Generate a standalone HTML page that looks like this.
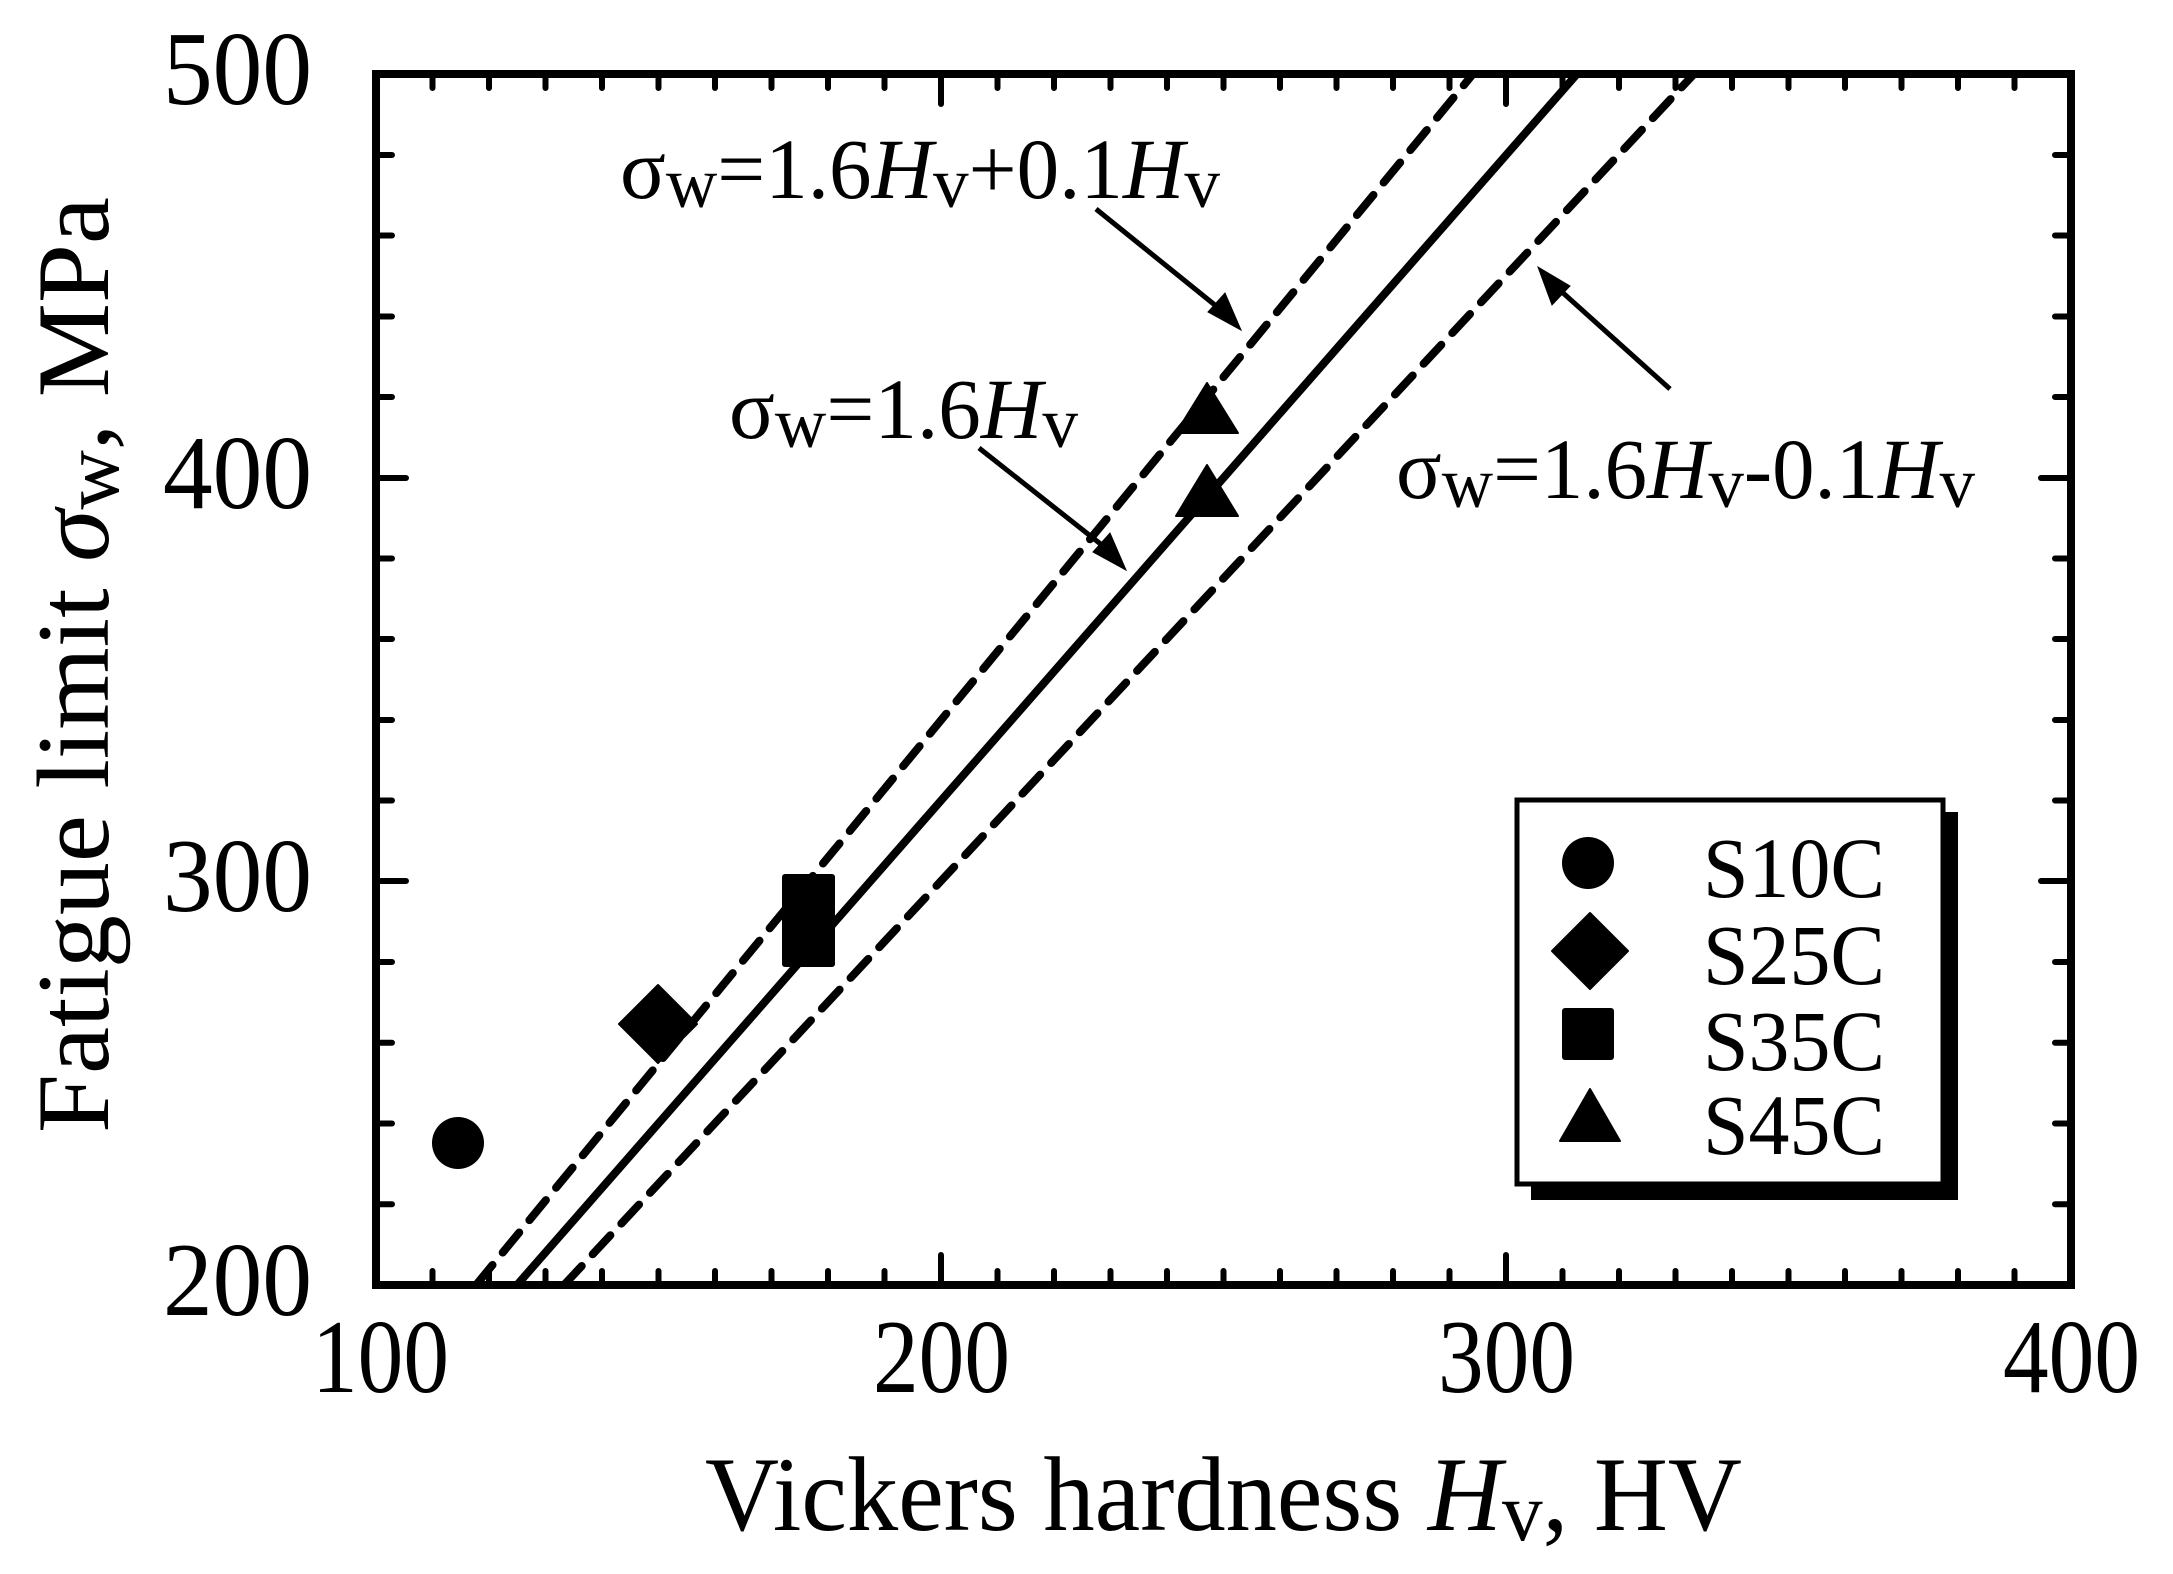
<!DOCTYPE html>
<html><head><meta charset="utf-8"><style>
html,body{margin:0;padding:0;background:#fff;}
svg{display:block;}
text{font-family:"Liberation Serif","DejaVu Serif",serif;fill:#000;}
</style></head><body>
<svg width="2173" height="1574" viewBox="0 0 2173 1574" xmlns="http://www.w3.org/2000/svg">
<defs>
<clipPath id="pc"><rect x="376" y="74" width="1695" height="1211"/></clipPath>
</defs>
<g clip-path="url(#pc)" fill="none" stroke="#000" stroke-width="8">
<line x1="517" y1="1285" x2="1577" y2="74"/>
<line x1="476" y1="1285" x2="1473" y2="74" stroke-dasharray="26,16" stroke-linecap="round"/>
<line x1="564" y1="1285" x2="1694" y2="74" stroke-dasharray="26,16" stroke-linecap="round"/>
</g>
<g stroke="#000" stroke-width="6" stroke-linecap="round">
<path d="M432.5,1285v-14M489,1285v-14M545.5,1285v-14M602,1285v-14M658.5,1285v-14M715,1285v-14M771.5,1285v-14M828,1285v-14M884.5,1285v-14M941,1285v-30M997.5,1285v-14M1054,1285v-14M1110.5,1285v-14M1167,1285v-14M1223.5,1285v-14M1280,1285v-14M1336.5,1285v-14M1393,1285v-14M1449.5,1285v-14M1506,1285v-30M1562.5,1285v-14M1619,1285v-14M1675.5,1285v-14M1732,1285v-14M1788.5,1285v-14M1845,1285v-14M1901.5,1285v-14M1958,1285v-14M2014.5,1285v-14"/>
<path d="M432.5,74v14M489,74v14M545.5,74v14M602,74v14M658.5,74v14M715,74v14M771.5,74v14M828,74v14M884.5,74v14M941,74v30M997.5,74v14M1054,74v14M1110.5,74v14M1167,74v14M1223.5,74v14M1280,74v14M1336.5,74v14M1393,74v14M1449.5,74v14M1506,74v30M1562.5,74v14M1619,74v14M1675.5,74v14M1732,74v14M1788.5,74v14M1845,74v14M1901.5,74v14M1958,74v14M2014.5,74v14"/>
<path d="M376,1204.3h16M376,1123.5h16M376,1042.8h16M376,962h16M376,881h30M376,800.5h16M376,720h16M376,639h16M376,558.5h16M376,478h30M376,397h16M376,316.5h16M376,235.5h16M376,155h16"/>
<path d="M2071,1204.3h-16M2071,1123.5h-16M2071,1042.8h-16M2071,962h-16M2071,881h-30M2071,800.5h-16M2071,720h-16M2071,639h-16M2071,558.5h-16M2071,478h-30M2071,397h-16M2071,316.5h-16M2071,235.5h-16M2071,155h-16"/>
</g>
<rect x="376" y="74" width="1695" height="1211" fill="none" stroke="#000" stroke-width="8"/>
<circle cx="458" cy="1143" r="26"/>
<polygon points="658,985 697,1024 658,1063 619,1024" stroke="#000" stroke-width="2" stroke-linejoin="round"/>
<rect x="782" y="874" width="53" height="52" rx="3"/>
<rect x="782" y="915" width="53" height="52" rx="3"/>
<polygon points="1207,383 1238,433 1176,433" stroke="#000" stroke-width="2" stroke-linejoin="round"/>
<polygon points="1207,465 1238,516 1176,516" stroke="#000" stroke-width="2" stroke-linejoin="round"/>
<g stroke="#000" stroke-width="5" fill="#000">
<line x1="1096" y1="209" x2="1226" y2="314"/>
<polygon points="1241,330 1208,312 1225,293" stroke-width="1"/>
<line x1="979" y1="448" x2="1112" y2="553"/>
<polygon points="1126,570 1093,552 1110,533" stroke-width="1"/>
<line x1="1670" y1="389" x2="1552" y2="283"/>
<polygon points="1538,267 1570,286 1552,305" stroke-width="1"/>
</g>
<rect x="1531" y="812" width="427" height="388" fill="#000"/>
<rect x="1517" y="800" width="426" height="384" fill="#fff" stroke="#000" stroke-width="5"/>
<circle cx="1588" cy="863" r="26"/>
<polygon points="1590,913 1628,951 1590,989 1552,951" stroke="#000" stroke-width="2" stroke-linejoin="round"/>
<rect x="1562" y="1008" width="52" height="52" rx="3"/>
<polygon points="1590,1089 1620,1141 1560,1141" stroke="#000" stroke-width="2" stroke-linejoin="round"/>
<g font-size="86">
<text x="1703" y="897" textLength="182" lengthAdjust="spacingAndGlyphs">S10C</text>
<text x="1703" y="984" textLength="182" lengthAdjust="spacingAndGlyphs">S25C</text>
<text x="1703" y="1070" textLength="182" lengthAdjust="spacingAndGlyphs">S35C</text>
<text x="1703" y="1154" textLength="182" lengthAdjust="spacingAndGlyphs">S45C</text>
</g>
<g font-size="105">
<text x="312" y="1315" text-anchor="end" textLength="149" lengthAdjust="spacingAndGlyphs">200</text>
<text x="312" y="911" text-anchor="end" textLength="149" lengthAdjust="spacingAndGlyphs">300</text>
<text x="312" y="508" text-anchor="end" textLength="149" lengthAdjust="spacingAndGlyphs">400</text>
<text x="312" y="104" text-anchor="end" textLength="149" lengthAdjust="spacingAndGlyphs">500</text>
<text x="312" y="1392" textLength="137" lengthAdjust="spacingAndGlyphs">100</text>
<text x="873" y="1392" textLength="137" lengthAdjust="spacingAndGlyphs">200</text>
<text x="1438" y="1392" textLength="137" lengthAdjust="spacingAndGlyphs">300</text>
<text x="2003" y="1392" textLength="137" lengthAdjust="spacingAndGlyphs">400</text>
</g>
<text x="705" y="1530" font-size="106" textLength="1037" lengthAdjust="spacingAndGlyphs">Vickers hardness <tspan font-style="italic">H</tspan><tspan font-size="84" dy="10">v</tspan><tspan dy="-10">, HV</tspan></text>
<text transform="translate(108,1133) rotate(-90)" x="0" y="0" font-size="103" textLength="936" lengthAdjust="spacingAndGlyphs">Fatigue limit <tspan font-style="italic">σ</tspan><tspan font-size="80" dy="10">w</tspan><tspan dy="-10">, MPa</tspan></text>
<g font-size="86">
<text x="620" y="198" textLength="600" lengthAdjust="spacingAndGlyphs">σ<tspan font-size="72" dy="9">w</tspan><tspan dy="-9">=1.6</tspan><tspan font-style="italic">H</tspan><tspan font-size="72" dy="9">v</tspan><tspan dy="-9">+0.1</tspan><tspan font-style="italic">H</tspan><tspan font-size="72" dy="9">v</tspan></text>
<text x="729" y="438" textLength="349" lengthAdjust="spacingAndGlyphs">σ<tspan font-size="72" dy="9">w</tspan><tspan dy="-9">=1.6</tspan><tspan font-style="italic">H</tspan><tspan font-size="72" dy="9">v</tspan></text>
<text x="1396" y="498" textLength="579" lengthAdjust="spacingAndGlyphs">σ<tspan font-size="72" dy="9">w</tspan><tspan dy="-9">=1.6</tspan><tspan font-style="italic">H</tspan><tspan font-size="72" dy="9">v</tspan><tspan dy="-9">-0.1</tspan><tspan font-style="italic">H</tspan><tspan font-size="72" dy="9">v</tspan></text>
</g>
</svg>
</body></html>
